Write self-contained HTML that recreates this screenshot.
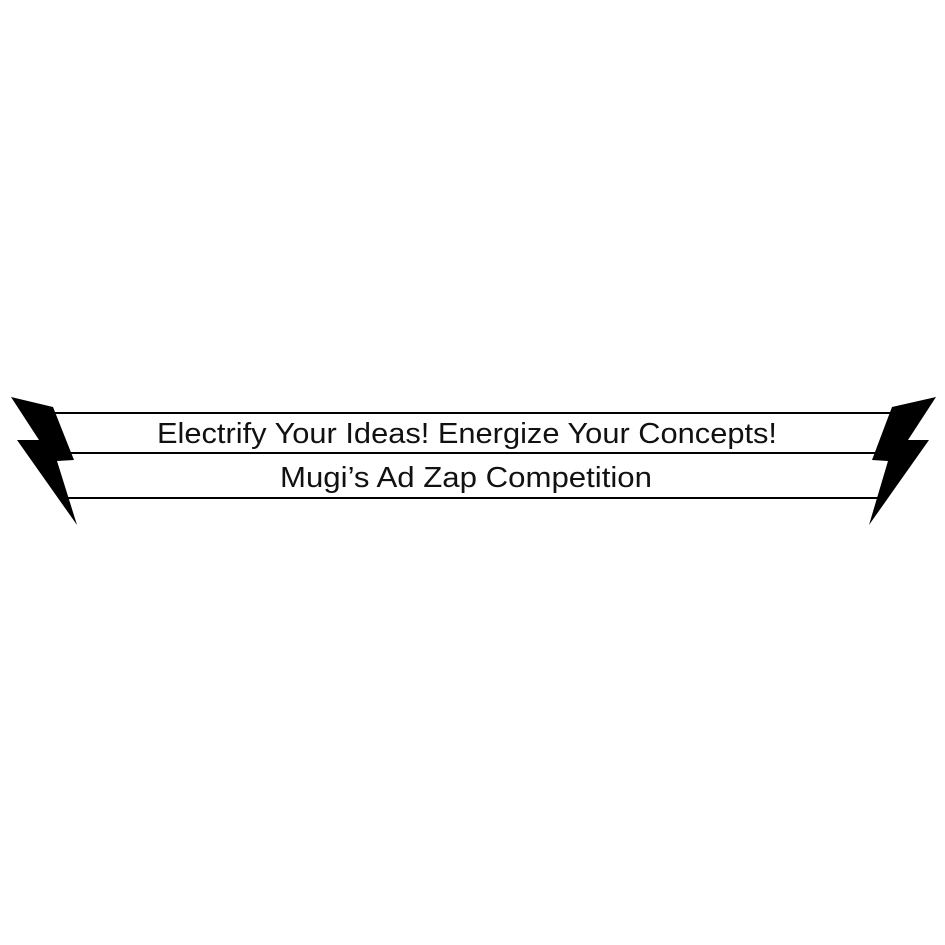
<!DOCTYPE html>
<html><head><style>html,body{margin:0;padding:0;background:#fff;}svg{display:block;}</style></head>
<body>
<svg width="945" height="945" viewBox="0 0 945 945" xmlns="http://www.w3.org/2000/svg">
<g stroke="#000" stroke-width="2">
<line x1="55" y1="413" x2="892" y2="413"/>
<line x1="60" y1="453" x2="886" y2="453"/>
<line x1="65" y1="498" x2="880" y2="498"/>
</g>
<polygon points="11,397 53,407 74,460 57,461 77,525 17,440 39,440" fill="#000"/>
<polygon points="936,397 892,407 872,460 888,461 869,525 929,440 908,440" fill="#000"/>
<g font-family="Liberation Sans, sans-serif" font-size="29" fill="#111">
<text x="157" y="443" textLength="620" lengthAdjust="spacingAndGlyphs">Electrify Your Ideas! Energize Your Concepts!</text>
<text x="280" y="487" textLength="372" lengthAdjust="spacingAndGlyphs">Mugi’s Ad Zap Competition</text>
</g>
</svg>
</body></html>
